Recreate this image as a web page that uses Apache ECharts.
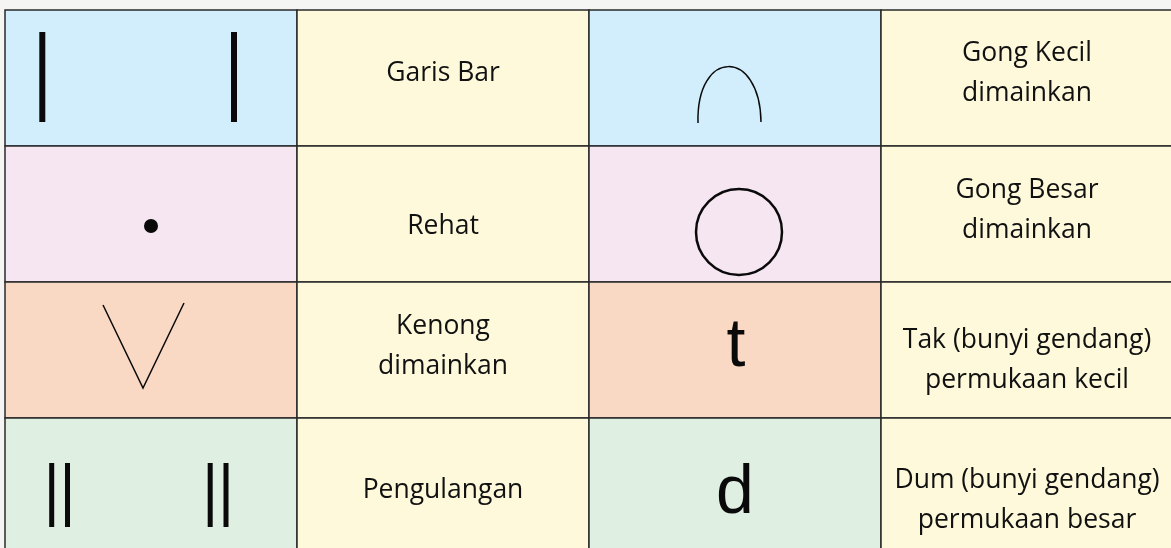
<!DOCTYPE html>
<html><head><meta charset="utf-8">
<script src="https://cdn.jsdelivr.net/npm/echarts@6/dist/echarts.min.js"></script>
<style>html,body{margin:0;padding:0;background:#f5f5f4;}#c{width:1171px;height:548px;}</style>
</head><body><div id="c"></div>
<script>
// ---- data ----
const rowKeys = ['baris1', 'baris2', 'baris3', 'baris4'];
const leftSymbols = ['garisBar', 'rehat', 'kenong', 'pengulangan'];
const leftLabels = ['Garis Bar', 'Rehat', 'Kenong\ndimainkan', 'Pengulangan'];
const rightSymbols = ['gongKecil', 'gongBesar', 't', 'd'];
const rightLabels = ['Gong Kecil\ndimainkan', 'Gong Besar\ndimainkan', 'Tak (bunyi gendang)\npermukaan kecil', 'Dum (bunyi gendang)\npermukaan besar'];

// ---- styles ----
const rowColors = ['#d2edfb', '#f5e6f2', '#f9d8c4', '#dff0e2'];
const labelFill = '#fdf9da';
const labelYOffset = [[63, 63], [80, 64], [64, 78], [72, 82]]; // [left, right] per row, px from cell top
const CW = 292, CH = 136;

const cells = [];
rowKeys.forEach((k, r) => { for (let c = 0; c < 4; c++) cells.push([c, r]); });

function symbolShapes(name, x, y, sx, sy) {
  const P = (px, py) => [x + px * sx, y + py * sy];
  const ink = '#0a0a0a';
  const out = [];
  const bar = (cx, y0, y1, bw) => out.push({ type: 'rect', shape: { x: x + cx * sx - bw / 2, y: y + y0 * sy, width: bw, height: (y1 - y0) * sy }, style: { fill: ink } });
  if (name === 'garisBar') { bar(37.3, 22, 112, 6); bar(229, 22, 112, 6); }
  else if (name === 'pengulangan') { bar(46.7, 45, 109, 5); bar(62.5, 45, 109, 5); bar(205.2, 45, 109, 5); bar(221, 45, 109, 5); }
  else if (name === 'rehat') { const p = P(146, 80); out.push({ type: 'circle', shape: { cx: p[0], cy: p[1], r: 7 }, style: { fill: ink } }); }
  else if (name === 'kenong') { out.push({ type: 'polyline', shape: { points: [P(98, 23), P(138, 106), P(179, 21)] }, style: { stroke: ink, lineWidth: 1.5, fill: null } }); }
  else if (name === 'gongKecil') {
    const a = P(109, 113), c1 = P(107, 38), c2 = P(171, 38), b = P(172, 112);
    out.push({ type: 'bezierCurve', shape: { x1: a[0], y1: a[1], cpx1: c1[0], cpy1: c1[1], cpx2: c2[0], cpy2: c2[1], x2: b[0], y2: b[1] }, style: { stroke: ink, lineWidth: 1.5, fill: null } });
  }
  else if (name === 'gongBesar') { const p = P(150, 86); out.push({ type: 'circle', shape: { cx: p[0], cy: p[1], r: 43 }, style: { stroke: ink, lineWidth: 2.5, fill: null } }); }
  else if (name === 't' || name === 'd') {
    const p = name === 't' ? P(147, 65) : P(146, 76);
    out.push({ type: 'text', style: { text: name, x: p[0], y: p[1], font: '68px "Liberation Sans", Arial, sans-serif', fill: ink, align: 'center', verticalAlign: 'middle' } });
  }
  return out;
}

const chart = echarts.init(document.getElementById('c'), null, { renderer: 'canvas' });
chart.setOption({
  backgroundColor: '#f5f5f4',
  animation: false,
  grid: { left: 5, top: 10, width: CW * 4, height: CH * 4, outerBoundsMode: 'none', containLabel: false },
  xAxis: { type: 'value', min: 0, max: 4, show: false },
  yAxis: { type: 'value', min: 0, max: 4, inverse: true, show: false },
  series: [{
    type: 'custom',
    clip: false,
    data: cells,
    renderItem: function (params, api) {
      const c = api.value(0), r = api.value(1);
      const p0 = api.coord([c, r]), p1 = api.coord([c + 1, r + 1]);
      const x = p0[0], y = p0[1], w = p1[0] - p0[0], h = p1[1] - p0[1];
      const sx = w / CW, sy = h / CH;
      const isLabel = c % 2 === 1;
      const children = [{ type: 'rect', shape: { x: x, y: y, width: w, height: h }, style: { fill: isLabel ? labelFill : rowColors[r], stroke: '#2a2a2a', lineWidth: 1.5 } }];
      if (isLabel) {
        const txt = c === 1 ? leftLabels[r] : rightLabels[r];
        const oy = labelYOffset[r][c === 1 ? 0 : 1];
        children.push({ type: 'text', style: { text: txt, x: x + w / 2, y: y + oy * sy, font: '26.5px "Open Sans", sans-serif', lineHeight: 40, fill: '#111', align: 'center', verticalAlign: 'middle' } });
      } else {
        const name = c === 0 ? leftSymbols[r] : rightSymbols[r];
        symbolShapes(name, x, y, sx, sy).forEach(s => children.push(s));
      }
      return { type: 'group', children: children };
    }
  }]
});
</script></body></html>
